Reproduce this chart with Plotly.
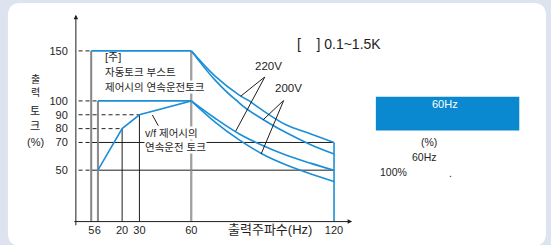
import plotly.graph_objects as go

W, H = 551, 245

# ---------------- data ----------------
# automatic torque boost (continuous torque) 5..60 Hz
boost_freq = [5, 60]
boost_torque = [150, 150]
# v/f control continuous torque
vf_freq = [6, 20, 30, 60]
vf_torque = [50, 80, 90, 100]
vf100_freq = [6, 60]
vf100_torque = [100, 100]
# constant-power region 60..120 Hz
hi_freq = [60, 70, 80, 90, 100, 110, 120]
t150_220v = [150, 124.7, 106.1, 93.2, 82.6, 76.3, 70]
t150_200v = [150, 120.8, 98.8, 86.8, 77.0, 68.6, 61.7]
t100_220v = [100, 87.5, 76.3, 67.8, 60.8, 55.1, 50]
t100_200v = [100, 84.7, 72.0, 61.5, 53.7, 47.4, 41.8]
# guide levels and the frequency where each dashed guide ends
guide_levels = [150, 100, 90, 80, 70, 50]
guide_ends = [5, 6, 30, 20, 5, 5]
# solid reference levels
ref_levels = [70, 50]
ref_span = [5, 120]
# vertical guides: frequency, top torque
vgray_freq = [5, 6, 60]
vgray_top = [150, 100, 150]
vblack_freq = [20, 30]
vblack_top = [80, 90]
vblue_freq = [120]
vblue_top = [70]
# tick labels
xt_a = [5, 6]
xt_b = [20, 30, 60]
xt_c = [120]
yt_lo = [50, 70, 80, 90, 100]
yt_hi = [150]

BLUE = '#1a8fd8'
GRAY = '#858585'
BLACK = '#1e1e1e'
FONT = 'Liberation Sans, Noto Sans CJK KR, sans-serif'

def px(x):
    return x / W

def py(y):
    return (H - y) / H

fig = go.Figure()
XA = ['x', 'x2', 'x3']
YA = ['y', 'y2']

def add(x, y, color, width, dash=None, shape='linear'):
    for xa in XA:
        for ya in YA:
            fig.add_trace(go.Scatter(
                x=x, y=y, mode='lines', xaxis=xa, yaxis=ya,
                line=dict(color=color, width=width, dash=dash, shape=shape, smoothing=1.0),
                showlegend=False, hoverinfo='skip'))

for lv, xe in zip(guide_levels, guide_ends):
    add([0, xe], [lv, lv], BLACK, 1, dash='4px,3px')
for lv in ref_levels:
    add(ref_span, [lv, lv], BLACK, 1)
for f, t in zip(vgray_freq, vgray_top):
    add([f, f], [0, t], GRAY, 2)
for f, t in zip(vblack_freq, vblack_top):
    add([f, f], [0, t], BLACK, 1)
for f, t in zip(vblue_freq, vblue_top):
    add([f, f], [0, t], BLUE, 1.6)
add(boost_freq, boost_torque, BLUE, 1.6)
add(vf100_freq, vf100_torque, BLUE, 1.6)
add(vf_freq, vf_torque, BLUE, 1.6)
for series in (t150_220v, t150_200v, t100_220v, t100_200v):
    add(hi_freq, series, BLUE, 1.6, shape='spline')

# ---------------- axes (piecewise schematic scale) ----------------
ax_common = dict(showgrid=False, zeroline=False, showline=False, ticks='', tickangle=0,
                 tickfont=dict(family=FONT, size=11, color=BLACK), fixedrange=True)
fig.update_layout(
    xaxis=dict(domain=[px(76.7), px(99.0)], range=[2.72, 6], anchor='y',
               tickmode='array', tickvals=xt_a, ticktext=[str(v) for v in xt_a],
               ticklabelstandoff=0, **ax_common),
    xaxis2=dict(domain=[px(99.0), px(193.4)], range=[6, 60], anchor='y',
                tickmode='array', tickvals=xt_b, ticktext=[str(v) for v in xt_b],
                ticklabelstandoff=0, **ax_common),
    xaxis3=dict(domain=[px(193.4), px(353)], range=[60, 126.36], anchor='y',
                tickmode='array', tickvals=xt_c, ticktext=[str(v) for v in xt_c],
                ticklabelstandoff=0, **ax_common),
    yaxis=dict(domain=[py(221), py(97.3)], range=[12.89, 100], anchor='x',
               tickmode='array', tickvals=yt_lo, ticktext=[str(v) for v in yt_lo],
               ticklabelstandoff=7, **ax_common),
    yaxis2=dict(domain=[py(97.3), py(12)], range=[100, 183.14], anchor='x',
                tickmode='array', tickvals=yt_hi, ticktext=[str(v) for v in yt_hi],
                ticklabelstandoff=7, **ax_common),
)

# ---------------- background panel ----------------
l, r, t, b, rad = 8, 552, -3, 246, 13
X0, X1 = px(l), px(r)
Y0, Y1 = py(t), py(b)
rx, ry = rad / W, rad / H
path = (f"M {X0+rx},{Y0} L {X1-rx},{Y0} Q {X1},{Y0} {X1},{Y0-ry} "
        f"L {X1},{Y1+ry} Q {X1},{Y1} {X1-rx},{Y1} L {X0+rx},{Y1} "
        f"Q {X0},{Y1} {X0},{Y1+ry} L {X0},{Y0-ry} Q {X0},{Y0} {X0+rx},{Y0} Z")
shapes = [
    dict(type='path', xref='paper', yref='paper', path=path,
         fillcolor='white', line=dict(width=0), layer='below'),
    dict(type='rect', xref='paper', yref='paper', x0=px(380), x1=px(525),
         y0=py(127.7), y1=py(93), fillcolor='#0a88d0', line=dict(width=0)),
]

# ---------------- annotations ----------------
ann = []
TY = -3.5  # text box centre correction

def text(s, x, y, size=11, xanchor='center', color=BLACK, bg=None):
    d = dict(text=s, x=px(x), y=py(y + TY), xref='paper', yref='paper', showarrow=False,
             xanchor=xanchor, yanchor='middle', font=dict(family=FONT, size=size, color=color),
             borderpad=0)
    if bg:
        d['bgcolor'] = bg
    ann.append(d)

def line(x0, y0, x1, y1, head=0, size=1):
    ann.append(dict(text='', x=px(x1), y=py(y1), xref='paper', yref='paper',
                    ax=x0 - x1, ay=y0 - y1, axref='pixel', ayref='pixel',
                    showarrow=True, arrowhead=head, arrowsize=size, arrowwidth=1,
                    arrowcolor=BLACK, standoff=0, startstandoff=0))

# axis lines with arrows
line(76.7, 221, 356, 221, head=2, size=0.9)
line(76.7, 221, 76.7, 9, head=2, size=0.9)

text('[주]', 105, 55.5, 11, 'left')
text('자동토크 부스트', 105, 71.5, 10.5, 'left')
text('제어시의 연속운전토크', 105, 86.5, 10.5, 'left', bg='white')
text('v/f 제어시의', 146, 133.5, 10.5, 'left', bg='white')
text('연속운전 토크', 146, 148.5, 10.5, 'left', bg='white')
line(153.3, 110.5, 160, 122.7)

text('220V', 271.5, 65, 11.5)
line(268.3, 72.5, 243.3, 92.5)
line(268.3, 72.5, 238.3, 128.3)
text('200V', 291.5, 88, 11.5)
line(287.3, 96.5, 266, 116.7)
line(287.3, 96.5, 264, 151.7)

text('[    ] 0.1~1.5K', 299, 42, 14, 'left')
text('60Hz', 450, 104, 11, color='white')
text('(%)', 433.5, 143, 10.5)
text('60Hz', 429.5, 158, 10.5)
text('100%', 397.5, 174, 10.5)
text('.', 455, 175, 10.5)

text('출력주파수(Hz)', 273, 232.5, 13)
text('출<br>력', 35.5, 85.5, 10)
for s, yy in zip(['토', '크', '(%)'], [111, 127, 143]):
    text(s, 35.5, yy, 11)

fig.update_layout(
    width=W, height=H, margin=dict(l=0, r=0, t=0, b=0),
    paper_bgcolor='#dde3ef', plot_bgcolor='rgba(0,0,0,0)',
    shapes=shapes, annotations=ann, showlegend=False,
    font=dict(family=FONT, color=BLACK),
)

fig.write_html('out.html', config={'displayModeBar': False},
               post_script="document.body.style.margin='0';document.body.style.padding='0';"
                           "document.documentElement.style.overflow='hidden';"
                           "var d=document.getElementById('{plot_id}');"
                           "d.style.position='fixed';d.style.top='0px';d.style.left='0px';")
